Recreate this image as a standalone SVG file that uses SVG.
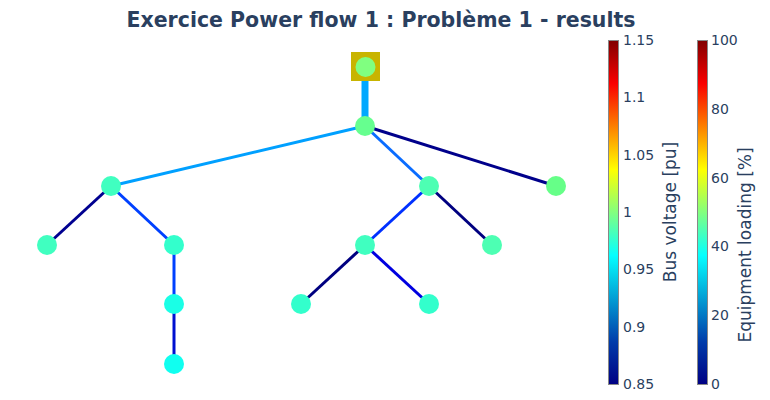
<svg xmlns="http://www.w3.org/2000/svg" width="770" height="400" viewBox="0 0 770 400">
<defs>
<linearGradient id="jet" x1="0" y1="1" x2="0" y2="0">
<stop offset="0" stop-color="rgb(0,0,131)"/>
<stop offset="0.125" stop-color="rgb(0,60,170)"/>
<stop offset="0.375" stop-color="rgb(5,255,255)"/>
<stop offset="0.625" stop-color="rgb(255,255,0)"/>
<stop offset="0.875" stop-color="rgb(250,0,0)"/>
<stop offset="1" stop-color="rgb(128,0,0)"/>
</linearGradient>
<style>
text{font-family:"DejaVu Sans",sans-serif;fill:#2a3f5f}
.title{font-size:20.5px;font-weight:bold}
.tick{font-size:14px}
.ctitle{font-size:17px}
.edge{fill:none;stroke-width:3}
.trafo{stroke-width:7}
.bus{stroke:none}
.bar{stroke:#888;stroke-width:1}
</style>
</defs>
<rect width="770" height="400" fill="#fff"/>
<text class="title" x="381" y="27" text-anchor="middle">Exercice Power flow 1 : Problème 1 - results</text>
<g id="connectors">
<line class="edge trafo" x1="365" y1="67" x2="365" y2="126" stroke="#00a8ff"/>
<line class="edge" x1="365" y1="126" x2="111" y2="186" stroke="#00a0ff"/>
<line class="edge" x1="365" y1="126" x2="429" y2="186" stroke="#0a6cff"/>
<line class="edge" x1="365" y1="126" x2="556" y2="186" stroke="#00008b"/>
<line class="edge" x1="111" y1="186" x2="47" y2="245" stroke="#000090"/>
<line class="edge" x1="111" y1="186" x2="174" y2="245" stroke="#0040ff"/>
<line class="edge" x1="174" y1="245" x2="174" y2="304" stroke="#0040ff"/>
<line class="edge" x1="174" y1="304" x2="174" y2="364" stroke="#0010d0"/>
<line class="edge" x1="429" y1="186" x2="365" y2="245" stroke="#0030ff"/>
<line class="edge" x1="429" y1="186" x2="492" y2="245" stroke="#000080"/>
<line class="edge" x1="365" y1="245" x2="301" y2="304" stroke="#000080"/>
<line class="edge" x1="365" y1="245" x2="429" y2="304" stroke="#0000e0"/>
</g>
<g id="n0"><rect x="351" y="52" width="29" height="29" fill="#c8b400"/><circle class="bus" cx="365.5" cy="67" r="10" fill="#80ff80"/></g>
<g id="n1"><circle class="bus" cx="365" cy="126" r="10" fill="#66ff8f"/></g>
<g id="n2"><circle class="bus" cx="111" cy="186" r="10" fill="#40ffc0"/></g>
<g id="n3"><circle class="bus" cx="429" cy="186" r="10" fill="#4dffb3"/></g>
<g id="n4"><circle class="bus" cx="556" cy="186" r="10" fill="#66ff88"/></g>
<g id="n5"><circle class="bus" cx="47" cy="245" r="10" fill="#40ffc0"/></g>
<g id="n6"><circle class="bus" cx="174" cy="245" r="10" fill="#33ffcc"/></g>
<g id="n7"><circle class="bus" cx="365" cy="245" r="10" fill="#40ffc0"/></g>
<g id="n8"><circle class="bus" cx="492" cy="245" r="10" fill="#4dffb3"/></g>
<g id="n9"><circle class="bus" cx="174" cy="304" r="10" fill="#1affe6"/></g>
<g id="n10"><circle class="bus" cx="301" cy="304" r="10" fill="#33ffcc"/></g>
<g id="n11"><circle class="bus" cx="429" cy="304" r="10" fill="#33ffcc"/></g>
<g id="n12"><circle class="bus" cx="174" cy="364" r="10" fill="#10fff0"/></g>
<g id="colorbar-voltage">
<rect class="bar" x="608.5" y="40.5" width="10" height="344" fill="url(#jet)"/>
<text class="tick" x="623" y="45">1.15</text>
<text class="tick" x="623" y="102">1.1</text>
<text class="tick" x="623" y="160">1.05</text>
<text class="tick" x="623" y="217">1</text>
<text class="tick" x="623" y="274">0.95</text>
<text class="tick" x="623" y="332">0.9</text>
<text class="tick" x="623" y="389">0.85</text>
<text class="ctitle" transform="translate(676,212) rotate(-90)" text-anchor="middle">Bus voltage [pu]</text>
</g>
<g id="colorbar-loading">
<rect class="bar" x="697.5" y="40.5" width="10" height="344" fill="url(#jet)"/>
<text class="tick" x="711" y="45">100</text>
<text class="tick" x="711" y="114">80</text>
<text class="tick" x="711" y="183">60</text>
<text class="tick" x="711" y="251">40</text>
<text class="tick" x="711" y="320">20</text>
<text class="tick" x="711" y="389">0</text>
<text class="ctitle" transform="translate(751,245) rotate(-90)" text-anchor="middle">Equipment loading [%]</text>
</g>
</svg>
